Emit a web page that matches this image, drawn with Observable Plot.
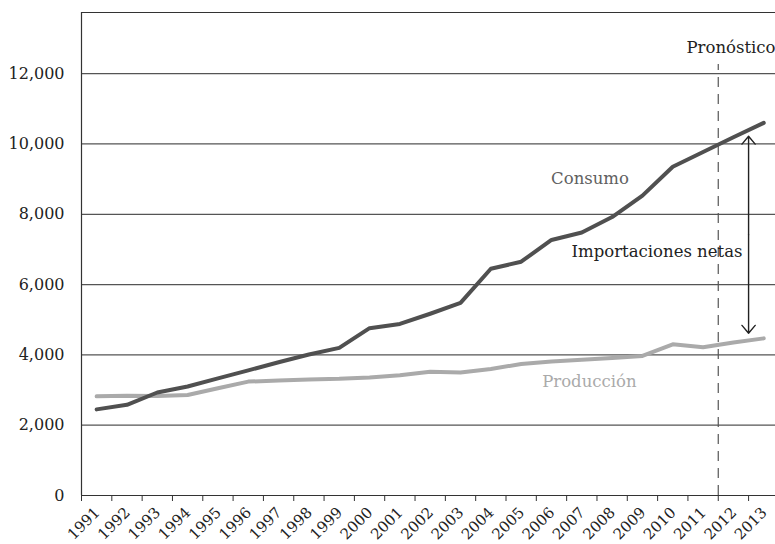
<!DOCTYPE html>
<html>
<head>
<meta charset="utf-8">
<script src="https://cdn.jsdelivr.net/npm/d3@7"></script>
<script src="https://cdn.jsdelivr.net/npm/@observablehq/plot@0.6"></script>
<style>
  html, body { margin: 0; padding: 0; background: #fff; overflow: hidden; }
  svg { display: block; }
</style>
</head>
<body>
<div id="chart"></div>
<script>
// ---- data ----
const years = [1991,1992,1993,1994,1995,1996,1997,1998,1999,2000,2001,2002,2003,2004,2005,2006,2007,2008,2009,2010,2011,2012,2013];
const consumo = [2450,2580,2930,3100,3330,3560,3790,4010,4200,4760,4880,5170,5480,6450,6650,7270,7480,7920,8530,9350,9770,10190,10600];
const produccion = [2820,2840,2830,2860,3050,3240,3270,3300,3320,3360,3420,3520,3500,3600,3740,3810,3860,3910,3970,4300,4220,4350,4470];
const yTicks = [0,2000,4000,6000,8000,10000,12000];
const gridValues = [2000,4000,6000,8000,10000,12000];
const forecastBoundary = [2011.5];
const importaciones = {year: 2012.5, low: 4615, high: 10220};
const labels = {consumo: "Consumo", produccion: "Producción", importaciones: "Importaciones netas", pronostico: "Pronóstico"};

// ---- derived tables ----
const consRows = years.map((y, i) => ({year: y, value: consumo[i]}));
const prodRows = years.map((y, i) => ({year: y, value: produccion[i]}));
const boundaries = years.map(y => y - 0.5);
const mid = (importaciones.low + importaciones.high) / 2;
const arrows = [
  {x: importaciones.year, y1: mid, y2: importaciones.high},
  {x: importaciones.year, y1: mid, y2: importaciones.low}
];

const FONT = "DejaVu Serif";

const chart = Plot.plot({
  width: 775,
  height: 544,
  marginLeft: 81,
  marginRight: 0,
  marginTop: 12,
  marginBottom: 49,
  style: {fontFamily: FONT, background: "#fff"},
  x: {type: "linear", domain: [1990.5, 2013.5], range: [81, 778.4], axis: null},
  y: {domain: [0, 13740], axis: null},
  marks: [
    // gridlines
    Plot.ruleY(gridValues, {y: d => d, stroke: "#555", strokeWidth: 1.2}),
    // frame: bottom, left, top
    Plot.ruleY([0], {stroke: "#333", strokeWidth: 1.2}),
    Plot.ruleX([1990.5], {stroke: "#333", strokeWidth: 1.2}),
    Plot.ruleY([13740], {stroke: "#333", strokeWidth: 1.2}),
    // y axis labels
    Plot.axisY({ticks: yTicks, tickSize: 0, tickPadding: 17, tickFormat: d3.format(","), fontSize: 16, fill: "#222", label: null}),
    // x tick marks at year boundaries
    Plot.axisX({ticks: boundaries, tickSize: 6, stroke: "#333", fill: "none", label: null}),
    // x year labels, rotated
    Plot.text(years, {x: d => d, frameAnchor: "bottom", text: d => String(d), rotate: -45, textAnchor: "end", dx: 4, dy: 18, fontSize: 15, fill: "#222"}),
    // forecast boundary
    Plot.ruleX(forecastBoundary, {x: d => d, y1: 0, y2: 12260, stroke: "#555", strokeWidth: 1.2, strokeDasharray: "10,7"}),
    // series
    Plot.line(prodRows, {x: "year", y: "value", stroke: "#aaa", strokeWidth: 4}),
    Plot.line(consRows, {x: "year", y: "value", stroke: "#505050", strokeWidth: 4}),
    // net imports arrow
    Plot.arrow(arrows, {x1: "x", x2: "x", y1: "y1", y2: "y2", bend: 0, stroke: "#222", strokeWidth: 1.4, headLength: 11, headAngle: 80}),
    // annotations
    Plot.text([labels.consumo], {x: 2007.27, y: 9010, text: d => d, fontSize: 16.5, fill: "#606060"}),
    Plot.text([labels.produccion], {x: 2007.25, y: 3240, text: d => d, fontSize: 16.5, fill: "#aaa"}),
    Plot.text([labels.importaciones], {x: 2009.48, y: 6943, text: d => d, fontSize: 16.5, fill: "#222"}),
    Plot.text([labels.pronostico], {x: 2011.92, y: 12738, text: d => d, fontSize: 16.5, fill: "#222"})
  ]
});
document.getElementById("chart").appendChild(chart);
</script>
</body>
</html>
